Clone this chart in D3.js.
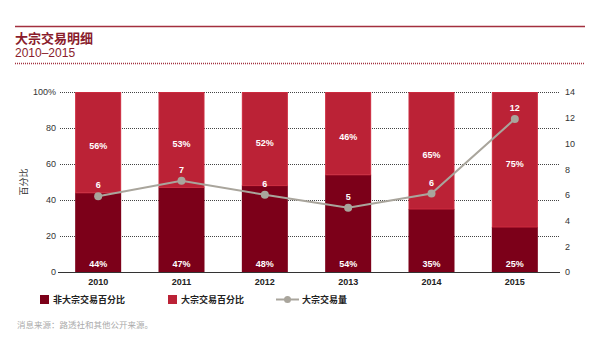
<!DOCTYPE html>
<html><head><meta charset="utf-8">
<script src="https://cdn.jsdelivr.net/npm/d3@7"></script>
<style>
body{margin:0;background:#fff;}
svg{display:block;font-family:"Liberation Sans",Arial,"Noto Sans CJK SC",sans-serif;}
.cjk{font-family:"Noto Sans CJK SC",sans-serif;}
</style></head>
<body><svg id="c" width="600" height="344"></svg>
<script>
const years = ["2010","2011","2012","2013","2014","2015"];
const nonBlockPct = [44, 47, 48, 54, 35, 25];
const blockPct = [56, 53, 52, 46, 65, 75];
const blockVolume = [5.9, 7.1, 6.0, 5.0, 6.1, 11.9];
const volumeLabels = ["6","7","6","5","6","12"];
const leftTicks = [0, 20, 40, 60, 80, 100];
const rightTicks = [0, 2, 4, 6, 8, 10, 12, 14];

const C_DARK = "#7c0019", C_LIGHT = "#bb2236", C_LINE = "#a9a59c", C_TITLE = "#8a1c2c";
const svg = d3.select("#c");

// header
svg.append("line").attr("x1",15).attr("x2",585).attr("y1",26.5).attr("y2",26.5)
  .attr("stroke","#a3303f").attr("stroke-width",1.5);
svg.append("text").attr("class","cjk").attr("x",15).attr("y",43).attr("fill",C_TITLE)
  .attr("font-size",13).attr("font-weight","bold").text("大宗交易明细");
svg.append("text").attr("x",15).attr("y",57).attr("fill",C_TITLE)
  .attr("font-size",12).text("2010–2015");
svg.append("line").attr("x1",15).attr("x2",585).attr("y1",63.5).attr("y2",63.5)
  .attr("stroke","#a3303f").attr("stroke-width",1.5).attr("stroke-dasharray","1,1");

const x = d3.scaleBand().domain(years).range([56.5,556.5]).paddingInner(0.448).paddingOuter(0.224);
const yL = d3.scaleLinear().domain([0,100]).range([272,92]);
const yR = d3.scaleLinear().domain([0,14]).range([272,92]);

// grid
const g = svg.append("g");
g.selectAll("line.grid").data(leftTicks.filter(d=>d>0)).join("line")
  .attr("x1",60).attr("x2",560).attr("y1",d=>yL(d)+0.5).attr("y2",d=>yL(d)+0.5)
  .attr("stroke","#444").attr("stroke-width",1).attr("stroke-dasharray","1,1");

// left axis labels
const axL = svg.append("g").attr("transform","translate(56,0)")
  .call(d3.axisLeft(yL).tickValues(leftTicks).tickSize(0).tickPadding(0)
    .tickFormat(d=>d===100?"100%":d));
axL.select(".domain").remove();
axL.selectAll("text").attr("font-size",9).attr("fill","#333").attr("font-family","Liberation Sans,Arial");

const axR = svg.append("g").attr("transform","translate(565,0)")
  .call(d3.axisRight(yR).tickValues(rightTicks).tickSize(0).tickPadding(0));
axR.select(".domain").remove();
axR.selectAll("text").attr("font-size",9).attr("fill","#333").attr("font-family","Liberation Sans,Arial");

svg.append("text").attr("class","cjk").attr("transform","translate(27,182) rotate(-90)")
  .attr("text-anchor","middle").attr("font-size",9).attr("fill","#333").text("百分比");

// bars
const bars = svg.append("g");
bars.selectAll("rect.dark").data(years).join("rect")
  .attr("x",d=>x(d)).attr("width",x.bandwidth())
  .attr("y",(d,i)=>yL(nonBlockPct[i])).attr("height",(d,i)=>yL(0)-yL(nonBlockPct[i]))
  .attr("fill",C_DARK);
bars.selectAll("rect.light").data(years).join("rect")
  .attr("x",d=>x(d)+0.5).attr("width",x.bandwidth()-1)
  .attr("y",d=>yL(100)+0.5).attr("height",(d,i)=>yL(nonBlockPct[i])-yL(100)-0.5)
  .attr("fill",C_LIGHT).attr("stroke","#cc2a3e").attr("stroke-width",1);

// x axis line
svg.append("line").attr("x1",58).attr("x2",560).attr("y1",272.5).attr("y2",272.5)
  .attr("stroke","#333").attr("stroke-width",1);
const axX = svg.append("g").attr("transform","translate(0,273)")
  .call(d3.axisBottom(x).tickSize(0).tickPadding(6));
axX.select(".domain").remove();
axX.selectAll("text").attr("font-size",9).attr("font-weight","bold").attr("fill","#222")
  .attr("font-family","Liberation Sans,Arial");

// pct labels
const lbl = svg.append("g").attr("font-size",9).attr("font-weight","bold").attr("fill","#fff")
  .attr("text-anchor","middle");
lbl.selectAll("text.b").data(years).join("text")
  .attr("x",d=>x(d)+x.bandwidth()/2).attr("y",yL(0)-5).text((d,i)=>nonBlockPct[i]+"%");
lbl.selectAll("text.a").data(years).join("text")
  .attr("x",d=>x(d)+x.bandwidth()/2)
  .attr("y",(d,i)=>(yL(100)+yL(nonBlockPct[i]))/2+7).text((d,i)=>blockPct[i]+"%");

// line
const line = d3.line().x((d,i)=>x(years[i])+x.bandwidth()/2).y(d=>yR(d));
svg.append("path").datum(blockVolume).attr("d",line).attr("fill","none")
  .attr("stroke",C_LINE).attr("stroke-width",2);
svg.selectAll("circle.pt").data(blockVolume).join("circle")
  .attr("cx",(d,i)=>x(years[i])+x.bandwidth()/2).attr("cy",d=>yR(d)).attr("r",4)
  .attr("fill",C_LINE);
lbl.selectAll("text.v").data(blockVolume).join("text")
  .attr("x",(d,i)=>x(years[i])+x.bandwidth()/2).attr("y",d=>yR(d)-8)
  .text((d,i)=>volumeLabels[i]);

// legend
const leg = svg.append("g");
leg.append("rect").attr("x",40).attr("y",295).attr("width",9).attr("height",9).attr("fill",C_DARK);
leg.append("text").attr("class","cjk").attr("x",53).attr("y",303).attr("font-size",9)
  .attr("font-weight","bold").attr("fill","#222").text("非大宗交易百分比");
leg.append("rect").attr("x",168).attr("y",295).attr("width",9).attr("height",9).attr("fill",C_LIGHT);
leg.append("text").attr("class","cjk").attr("x",181).attr("y",303).attr("font-size",9)
  .attr("font-weight","bold").attr("fill","#222").text("大宗交易百分比");
leg.append("line").attr("x1",276).attr("x2",299).attr("y1",299.5).attr("y2",299.5)
  .attr("stroke",C_LINE).attr("stroke-width",2);
leg.append("circle").attr("cx",287.5).attr("cy",299.5).attr("r",3.5).attr("fill",C_LINE);
leg.append("text").attr("class","cjk").attr("x",302).attr("y",303).attr("font-size",9)
  .attr("font-weight","bold").attr("fill","#222").text("大宗交易量");

svg.append("text").attr("class","cjk").attr("x",17).attr("y",328).attr("font-size",8.5)
  .attr("fill","#aaa").text("消息来源：路透社和其他公开来源。");
</script></body></html>
